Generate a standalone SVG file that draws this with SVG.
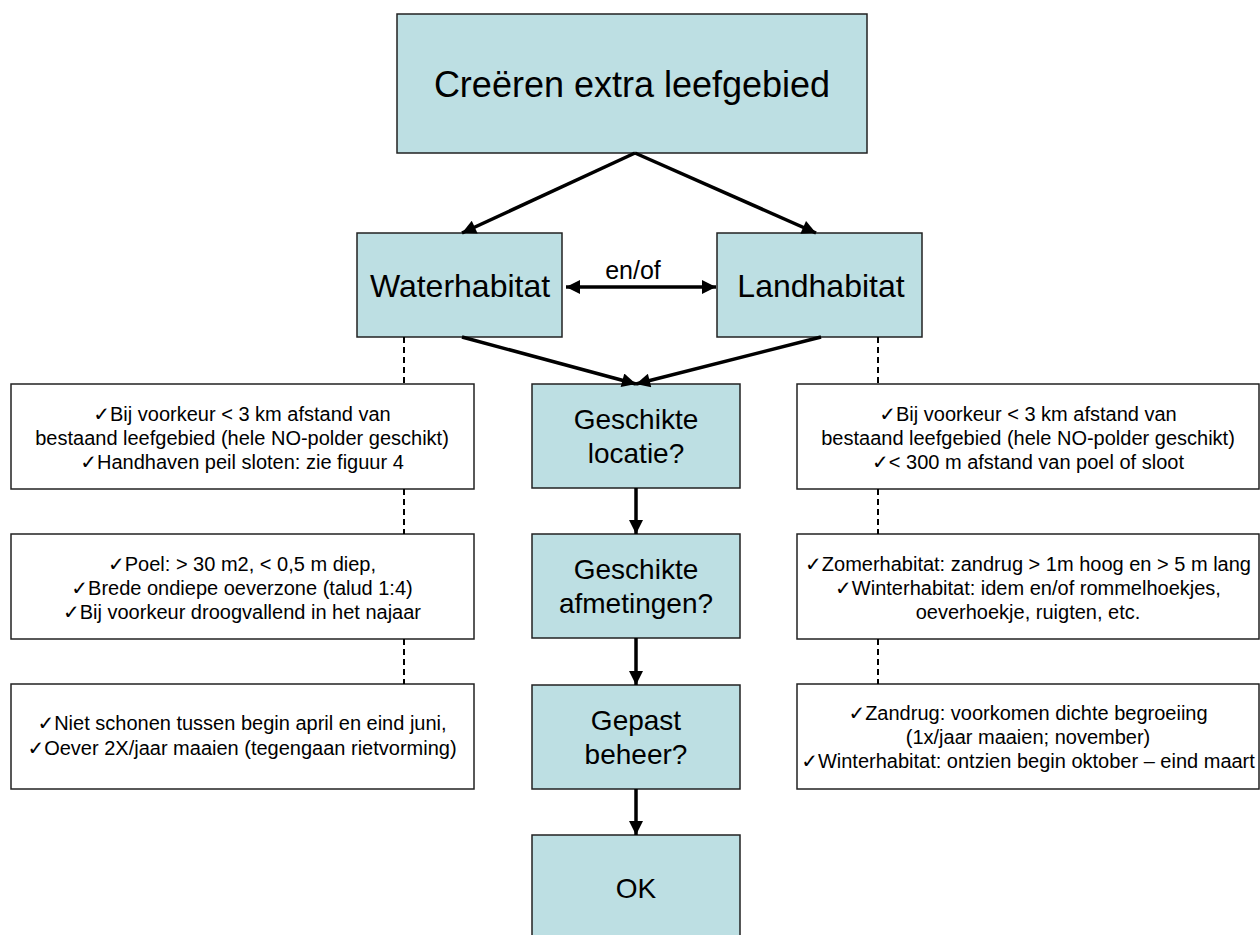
<svg xmlns="http://www.w3.org/2000/svg" width="1260" height="935" viewBox="0 0 1260 935">
<style>
.b{fill:#BDDFE3;stroke:#222;stroke-width:1.5}
.w{fill:#fff;stroke:#222;stroke-width:1.5}
text{font-family:"Liberation Sans",Arial,"DejaVu Sans",sans-serif;fill:#000;text-anchor:middle}
.s{font-size:20px}
.m{font-size:28px}
.l{font-size:32px}
.c line{stroke:#000;stroke-width:3.5}
.d line{stroke:#000;stroke-width:2;stroke-dasharray:6 4}
</style>
<defs>
<marker id="a" viewBox="0 0 10 10" refX="10" refY="5" markerWidth="4.5" markerHeight="4" orient="auto-start-reverse" markerUnits="strokeWidth">
<path d="M0,0 L10,5 L0,10 z" fill="#000"/>
</marker>
</defs>
<rect width="1260" height="935" fill="#fff"/>
<g id="top"><rect class="b" x="397" y="14" width="470" height="139"/><text x="632" y="97" style="font-size:36px">Creëren extra leefgebied</text></g>
<g id="water"><rect class="b" x="357" y="233" width="205" height="104"/><text class="l" x="460" y="297">Waterhabitat</text></g>
<g id="land"><rect class="b" x="717" y="233" width="205" height="104"/><text class="l" x="821" y="297">Landhabitat</text></g>
<g id="locatie"><rect class="b" x="532" y="384" width="208" height="104"/><text class="m" x="636" y="429">Geschikte</text><text class="m" x="636" y="463">locatie?</text></g>
<g id="afmetingen"><rect class="b" x="532" y="534" width="208" height="104"/><text class="m" x="636" y="579">Geschikte</text><text class="m" x="636" y="613">afmetingen?</text></g>
<g id="beheer"><rect class="b" x="532" y="685" width="208" height="104"/><text class="m" x="636" y="730">Gepast</text><text class="m" x="636" y="764">beheer?</text></g>
<g id="ok"><rect class="b" x="532" y="835" width="208" height="104"/><text class="m" x="636" y="898">OK</text></g>
<g id="wl1"><rect class="w" x="11" y="384" width="463" height="105"/><text class="s" x="242" y="421">✓Bij voorkeur &lt; 3 km afstand van</text><text class="s" x="242" y="445">bestaand leefgebied (hele NO-polder geschikt)</text><text class="s" x="242" y="469">✓Handhaven peil sloten: zie figuur 4</text></g>
<g id="wl2"><rect class="w" x="11" y="534" width="463" height="105"/><text class="s" x="242" y="571">✓Poel: &gt; 30 m2, &lt; 0,5 m diep,</text><text class="s" x="242" y="595">✓Brede ondiepe oeverzone (talud 1:4)</text><text class="s" x="242" y="619">✓Bij voorkeur droogvallend in het najaar</text></g>
<g id="wl3"><rect class="w" x="11" y="684" width="463" height="105"/><text class="s" x="242" y="730">✓Niet schonen tussen begin april en eind juni,</text><text class="s" x="242" y="755">✓Oever 2X/jaar maaien (tegengaan rietvorming)</text></g>
<g id="ll1"><rect class="w" x="797" y="384" width="462" height="105"/><text class="s" x="1028" y="421">✓Bij voorkeur &lt; 3 km afstand van</text><text class="s" x="1028" y="445">bestaand leefgebied (hele NO-polder geschikt)</text><text class="s" x="1028" y="469">✓&lt; 300 m afstand van poel of sloot</text></g>
<g id="ll2"><rect class="w" x="797" y="534" width="462" height="105"/><text class="s" x="1028" y="571">✓Zomerhabitat: zandrug &gt; 1m hoog en &gt; 5 m lang</text><text class="s" x="1028" y="595">✓Winterhabitat: idem en/of rommelhoekjes,</text><text class="s" x="1028" y="619">oeverhoekje, ruigten, etc.</text></g>
<g id="ll3"><rect class="w" x="797" y="684" width="462" height="105"/><text class="s" x="1028" y="720">✓Zandrug: voorkomen dichte begroeiing</text><text class="s" x="1028" y="744">(1x/jaar maaien; november)</text><text class="s" x="1028" y="768">✓Winterhabitat: ontzien begin oktober – eind maart</text></g>
<g id="connectors">
<g class="c">
<line x1="635" y1="153" x2="462" y2="233" marker-end="url(#a)"/>
<line x1="635" y1="153" x2="816" y2="233" marker-end="url(#a)"/>
<line x1="566" y1="287" x2="716" y2="287" marker-start="url(#a)" marker-end="url(#a)"/>
<line x1="462" y1="337" x2="636" y2="384" marker-end="url(#a)"/>
<line x1="821" y1="337" x2="636" y2="384" marker-end="url(#a)"/>
<line x1="636" y1="488" x2="636" y2="534" marker-end="url(#a)"/>
<line x1="636" y1="638" x2="636" y2="685" marker-end="url(#a)"/>
<line x1="636" y1="789" x2="636" y2="835" marker-end="url(#a)"/>
</g>
<g class="d">
<line x1="404" y1="337" x2="404" y2="384"/>
<line x1="404" y1="489" x2="404" y2="534"/>
<line x1="404" y1="639" x2="404" y2="684"/>
<line x1="878" y1="337" x2="878" y2="384"/>
<line x1="878" y1="489" x2="878" y2="534"/>
<line x1="878" y1="639" x2="878" y2="684"/>
</g>
</g>
<text x="633" y="279" style="font-size:25px">en/of</text>
</svg>
